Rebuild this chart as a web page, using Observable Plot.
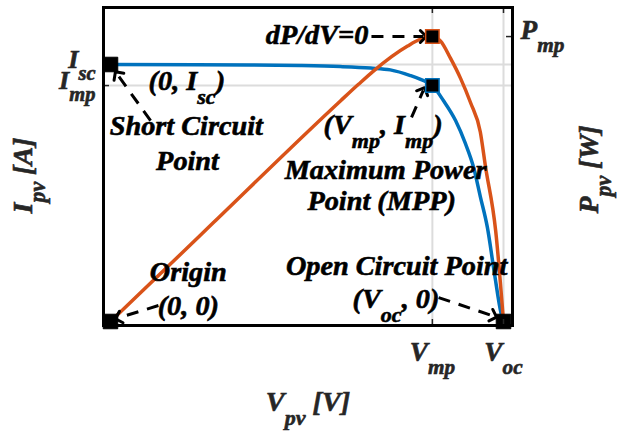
<!DOCTYPE html>
<html><head><meta charset="utf-8">
<script src="https://cdn.jsdelivr.net/npm/d3@7"></script>
<script src="https://cdn.jsdelivr.net/npm/@observablehq/plot@0.6"></script>
<style>
html,body{margin:0;padding:0;background:#fff;}
#chart svg{display:block;}
</style>
</head><body><div id="chart"></div>
<script>
// ---- data (normalized: Voc = 1, Isc = 1) ----
const voltageIV = [0, 0.356, 0.483, 0.585, 0.662, 0.712, 0.763, 0.789, 0.819, 0.847, 0.878, 0.903, 0.924, 0.941, 0.959, 0.977, 0.994, 1.0];
const currentIV = [1.0, 0.998, 0.996, 0.992, 0.986, 0.979, 0.957, 0.942, 0.918, 0.860, 0.782, 0.693, 0.599, 0.486, 0.366, 0.187, 0.031, 0];
const voltagePV = [0, 0.191, 0.262, 0.585, 0.631, 0.669, 0.756, 0.789, 0.819, 0.840, 0.865, 0.891, 0.916, 0.941, 0.954, 0.980, 1.0];
const powerPV   = [0, 0.190, 0.261, 0.582, 0.626, 0.661, 0.727, 0.745, 0.752, 0.740, 0.695, 0.641, 0.578, 0.500, 0.410, 0.240, 0];
const Isc = 1.0, Voc = 1.0, Vmp = 0.819, Imp = 0.918, Pmp = 0.752;

const xTickLabels = ["V_{mp}", "V_{oc}"];
const leftTickLabels = ["I_{sc}", "I_{mp}"];
const rightTickLabels = ["P_{mp}"];
const xLabel = "V_{pv} [V]";
const leftLabel = "I_{pv} [A]";
const rightLabel = "P_{pv} [W]";

const annotTexts = ["dP/dV=0", "(0, I_{sc})", "Short Circuit", "Point", "(V_{mp}, I_{mp})", "Maximum Power", "Point (MPP)", "Origin", "(0, 0)", "Open Circuit Point", "(V_{oc}, 0)"];
const annotV = [0.656, 0.097, 0.193, 0.196, 0.542, 0.700, 0.690, 0.198, 0.198, 0.728, 0.616];
const annotI = [1.113, 0.934, 0.759, 0.626, 0.763, 0.588, 0.467, 0.191, 0.062, 0.214, 0.086];
const annotAnchor = ["end", "start", "middle", "middle", "start", "middle", "middle", "middle", "middle", "middle", "start"];

const arrowV1 = [0.664, 0.102, 0.766, 0.122, 0.835];
const arrowI1 = [1.109, 0.782, 0.794, 0.062, 0.093];
const arrowV2 = [0.796, 0.017, 0.796, 0.020, 0.975];
const arrowI2 = [1.109, 0.962, 0.899, 0.014, 0.021];

// ---- scales ----
const xDomain = [-0.0178, 1.0229];
const iDomain = [-0.0156, 1.2218];
const pDomain = [-0.0106, 0.8287];
const pToI = d3.scaleLinear(pDomain, iDomain);

const iv = voltageIV.map((v, i) => ({v, y: currentIV[i]}));
const pv = voltagePV.map((v, i) => ({v, y: pToI(powerPV[i])}));
const annots = annotTexts.map((t, i) => ({t, v: annotV[i], y: annotI[i], a: annotAnchor[i]}));
const arrows = arrowV1.map((v, i) => ({x1: v, y1: arrowI1[i], x2: arrowV2[i], y2: arrowI2[i]}));

const xLab = new Map([[Vmp, xTickLabels[0]], [Voc, xTickLabels[1]]]);
const lLab = new Map([[Isc, leftTickLabels[0]], [Imp, leftTickLabels[1]]]);

const BLUE = "#0072BD", ORANGE = "#D95319", GRID = "#dcdcdc", TXT = "#262626";
const FONT = "'Liberation Serif', 'Times New Roman', Times, serif";
const frameW = 617 - 103 - 105, frameH = 431 - 7 - 106;

const chart = Plot.plot({
  width: 617, height: 431,
  marginLeft: 103, marginRight: 105, marginTop: 7, marginBottom: 106,
  x: {domain: xDomain},
  y: {domain: iDomain},
  style: {fontFamily: FONT, fontWeight: "bold", fontStyle: "italic", background: "white", overflow: "visible"},
  marks: [
    Plot.ruleX([Vmp, Voc], {stroke: GRID, strokeWidth: 2}),
    Plot.ruleY([Isc, Imp], {stroke: GRID, strokeWidth: 2}),
    Plot.line(iv, {x: "v", y: "y", stroke: BLUE, strokeWidth: 3.5, curve: "monotone-x"}),
    Plot.line(pv, {x: "v", y: "y", stroke: ORANGE, strokeWidth: 3.5, curve: "monotone-x"}),
    Plot.link(arrows, {x1: "x1", y1: "y1", x2: "x2", y2: "y2", stroke: "black", strokeWidth: 3, strokeDasharray: "12,9", markerEnd: "arrow"}),
    Plot.dot([{v: 0, y: Isc}, {v: 0, y: 0}, {v: Voc, y: 0}], {x: "v", y: "y", symbol: "square", r: 8.2, fill: "black", stroke: "black", strokeWidth: 1}),
    Plot.dot([{v: Vmp, y: Imp}], {x: "v", y: "y", symbol: "square", r: 7.6, fill: "black", stroke: BLUE, strokeWidth: 1.5}),
    Plot.dot([{v: Vmp, y: pToI(Pmp)}], {x: "v", y: "y", symbol: "square", r: 7.6, fill: "black", stroke: ORANGE, strokeWidth: 1.5}),
    ...["start", "middle", "end"].map(a =>
      Plot.text(annots.filter(d => d.a === a), {x: "v", y: "y", text: "t", textAnchor: a, lineAnchor: "middle", fontSize: 28, fill: "black"})),
    // inward tick marks
    Plot.tickX([Vmp, Voc], {x: d => d, insetTop: frameH - 6, stroke: TXT, strokeWidth: 1.5}),
    Plot.tickX([Vmp, Voc], {x: d => d, insetBottom: frameH - 6, stroke: TXT, strokeWidth: 1.5}),
    Plot.tickY([Imp], {y: d => d, insetRight: frameW - 6, stroke: TXT, strokeWidth: 1.5}),
    Plot.tickY([pToI(Pmp)], {y: d => d, insetLeft: frameW - 6, stroke: TXT, strokeWidth: 1.5}),
    // tick labels
    Plot.axisX({ticks: [Vmp, Voc], tickFormat: d => xLab.get(d), tickSize: 0, tickPadding: 16, fontSize: 27, color: TXT, label: null}),
    Plot.axisY({anchor: "left", ticks: [Isc, Imp], tickFormat: d => lLab.get(d), tickSize: 0, tickPadding: 8, dy: -5, fontSize: 26, color: TXT, label: null}),
    Plot.axisY({anchor: "right", ticks: [pToI(Pmp)], tickFormat: () => rightTickLabels[0], tickSize: 0, tickPadding: 8, dy: -6, fontSize: 27, color: TXT, label: null}),
    // axis labels
    Plot.text([xLabel], {frameAnchor: "bottom", textAnchor: "middle", lineAnchor: "middle", text: d => d, dy: 77, fontSize: 28, fill: TXT}),
    Plot.text([leftLabel], {frameAnchor: "left", textAnchor: "middle", lineAnchor: "middle", text: d => d, rotate: -90, dx: -81, dy: 9, fontSize: 28, fill: TXT}),
    Plot.text([rightLabel], {frameAnchor: "right", textAnchor: "middle", lineAnchor: "middle", text: d => d, rotate: -90, dx: 76, dy: 3, fontSize: 28, fill: TXT}),
    Plot.frame({stroke: "black", strokeWidth: 3})
  ]
});

document.getElementById("chart").appendChild(chart);

// subscripts "_{..}" -> tspans; heavier glyphs
const NS = "http://www.w3.org/2000/svg";
chart.querySelectorAll("text").forEach(t => {
  const s = t.textContent;
  const cs = getComputedStyle(t);
  if (s.includes("_{")) {
    const fs = parseFloat(cs.fontSize) || 25;
    const sub = fs * 0.78, off = fs * 0.48;
    while (t.firstChild) t.removeChild(t.firstChild);
    let shifted = false;
    s.split(/(_\{[^}]*\})/).forEach(p => {
      if (!p) return;
      const ts = document.createElementNS(NS, "tspan");
      if (p.startsWith("_{")) {
        ts.textContent = p.slice(2, -1);
        ts.setAttribute("font-size", sub);
        ts.setAttribute("dy", off);
        shifted = true;
      } else {
        ts.textContent = p;
        if (shifted) { ts.setAttribute("dy", -off); shifted = false; }
      }
      t.appendChild(ts);
    });
  }
  t.setAttribute("stroke", cs.fill && cs.fill !== "none" ? cs.fill : "black");
  t.setAttribute("stroke-width", 0.6);
  t.setAttribute("paint-order", "stroke");
  const tr = t.getAttribute("transform");
  if (tr && /^translate\([^)]*\)/.test(tr)) {
    t.setAttribute("transform", tr.replace(/^(translate\([^)]*\))/, "$1 scale(1.01,1)"));
  }
});
</script>
</body></html>
